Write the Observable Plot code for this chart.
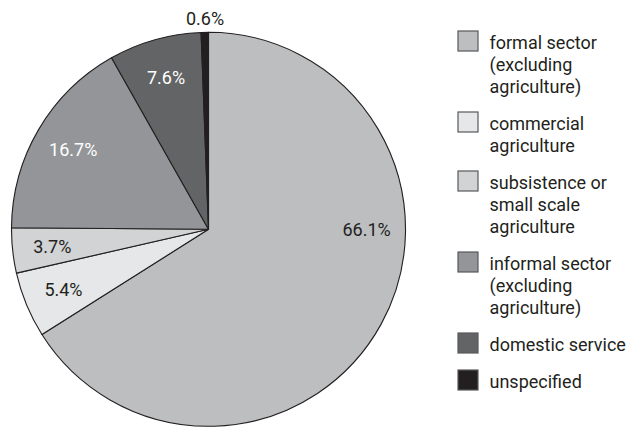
<!DOCTYPE html>
<html>
<head>
<meta charset="utf-8">
<script src="https://cdn.jsdelivr.net/npm/d3@7"></script>
<script src="https://cdn.jsdelivr.net/npm/@observablehq/plot@0.6"></script>
<style>
  html, body { margin: 0; padding: 0; background: #ffffff; }
  #chart svg { display: block; }
</style>
</head>
<body>
<div id="chart"></div>
<script>
// ---- data ----
const categories = [
  "formal sector (excluding agriculture)",
  "commercial agriculture",
  "subsistence or small scale agriculture",
  "informal sector (excluding agriculture)",
  "domestic service",
  "unspecified"
];
const legendLines = [
  ["formal sector", "(excluding", "agriculture)"],
  ["commercial", "agriculture"],
  ["subsistence or", "small scale", "agriculture"],
  ["informal sector", "(excluding", "agriculture)"],
  ["domestic service"],
  ["unspecified"]
];
const shares = [66.1, 5.4, 3.7, 16.7, 7.6, 0.6];
const shareLabels = ["66.1%", "5.4%", "3.7%", "16.7%", "7.6%", "0.6%"];
const colors = ["#bcbec0", "#e6e7e8", "#d1d3d4", "#939598", "#636466", "#231f20"];

// ---- layout ----
const W = 629, H = 427;
const cx = 208.5, cy = 229.3, R = 197;
const ink = "#231f20";
const fontSize = 18;
const lineH = 22;
const legendX = 489, swatchX1 = 458, swatchX2 = 478, legendTop = 41, itemGap = 15;

const rows = categories.map((c, i) => ({category: c, share: shares[i], label: shareLabels[i], color: colors[i]}));
const arcs = d3.pie().value(d => d.share).sort(null)(rows);

const labelRows = arcs.map(a => {
  const span = a.endAngle - a.startAngle;
  const small = span < 2 * Math.PI * 0.02;
  const ang = span > Math.PI ? Math.PI / 2 : (a.startAngle + a.endAngle) / 2;
  const r = small ? R + 14 : R * 0.8;
  const dark = d3.hsl(a.data.color).l < 0.65;
  return {
    x: cx + r * Math.sin(ang),
    y: cy - r * Math.cos(ang),
    text: a.data.label,
    fill: (!small && dark) ? "#ffffff" : ink
  };
});

let c = legendTop;
const legendRows = categories.map((cat, i) => {
  const row = {category: cat, lines: legendLines[i], c};
  c += legendLines[i].length * lineH + itemGap;
  return row;
});

function pieMark(index, scales) {
  const color = scales.color || d3.scaleOrdinal(categories, colors);
  const px = scales.x ? scales.x(cx) : cx;
  const py = scales.y ? scales.y(cy) : cy;
  const arc = d3.arc().innerRadius(0).outerRadius(R);
  const g = d3.create("svg:g").attr("transform", `translate(${px},${py})`);
  g.selectAll("path")
    .data(arcs)
    .join("path")
    .attr("d", arc)
    .attr("fill", d => color(d.data.category))
    .attr("stroke", ink)
    .attr("stroke-width", 1.1)
    .attr("stroke-linejoin", "round");
  return g.node();
}

const chart = Plot.plot({
  width: W,
  height: H,
  margin: 0,
  x: {type: "identity", axis: null},
  y: {type: "identity", axis: null},
  color: {domain: categories, range: colors, legend: false},
  style: {fontFamily: "Roboto, 'Liberation Sans', Arial, sans-serif", background: "#ffffff", color: ink},
  marks: [
    pieMark,
    Plot.text(labelRows, {
      x: "x", y: "y", text: "text", fill: "fill",
      fontSize, textAnchor: "middle", lineAnchor: "middle"
    }),
    Plot.rect(legendRows, {
      x1: () => swatchX1, x2: () => swatchX2,
      y1: d => d.c - 10, y2: d => d.c + 10,
      fill: "category", stroke: "#58595b", strokeWidth: 1.2
    }),
    Plot.text(legendRows, {
      x: () => legendX, y: d => d.c - 8,
      text: d => d.lines.join("\n"),
      textAnchor: "start", lineAnchor: "top", lineHeight: lineH / fontSize,
      fontSize, fill: ink
    })
  ]
});

document.getElementById("chart").appendChild(chart);
</script>
</body>
</html>
